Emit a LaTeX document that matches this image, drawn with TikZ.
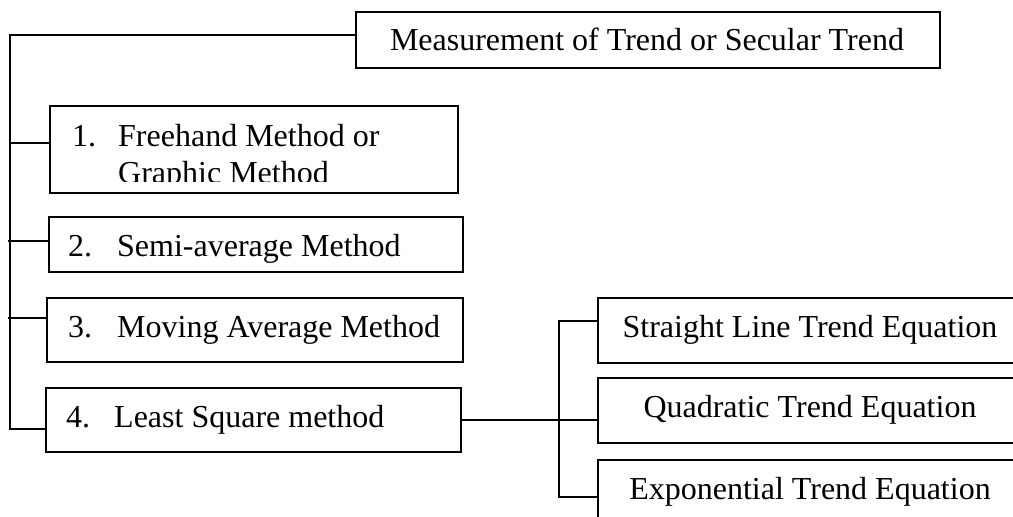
\documentclass[tikz,border=0pt]{standalone}
\usepackage{fontspec}
\setmainfont{Liberation Serif}
\begin{document}
\begin{tikzpicture}[x=1pt,y=-1pt,
  box/.style={draw, line width=1.6pt, inner sep=0pt, anchor=north west},
  lbl/.style={inner sep=0pt, anchor=base west, font=\fontsize{32}{37}\selectfont},
  clbl/.style={inner sep=0pt, anchor=base, font=\fontsize{32}{37}\selectfont},
  conn/.style={line width=1.5pt}]
\useasboundingbox (0,0) rectangle (1013,517);
\clip (0,0) rectangle (1013,517);
% boxes
\node[box, minimum width=584pt, minimum height=56pt] (top) at (355,11) {};
\node[box, minimum width=408pt, minimum height=87pt] (b1) at (49,105) {};
\node[box, minimum width=414pt, minimum height=55pt] (b2) at (48,216) {};
\node[box, minimum width=416pt, minimum height=64pt] (b3) at (46,297) {};
\node[box, minimum width=415pt, minimum height=64pt] (b4) at (45,387) {};
\node[box, minimum width=426pt, minimum height=65pt] (sl) at (597,297) {};
\node[box, minimum width=426pt, minimum height=65pt] (qd) at (597,377) {};
\node[box, minimum width=426pt, minimum height=65pt] (ex) at (597,459) {};
% texts
\node[clbl] (ttop) at (647,50) {Measurement of Trend or Secular Trend};
\begin{scope}
\clip (49,105) rectangle (457,181.5);
\node[lbl] (t1a) at (72,146) {\makebox[46pt][l]{1.}Freehand Method or};
\node[lbl] (t1b) at (118,183) {Graphic Method};
\end{scope}
\node[lbl] (t2) at (68,256) {\makebox[49pt][l]{2.}Semi-average Method};
\node[lbl] (t3) at (68,337) {\makebox[49pt][l]{3.}Moving Average Method};
\node[lbl] (t4) at (66,427) {\makebox[48pt][l]{4.}Least Square method};
\node[clbl] (tsl) at (810,337) {Straight Line Trend Equation};
\node[clbl] (tqd) at (810,417) {Quadratic Trend Equation};
\node[clbl] (tex) at (810,499) {Exponential Trend Equation};
% connectors
\coordinate (tA) at (10,35);
\coordinate (tB) at (10,429);
\draw[conn] (top.west |- tA) -- (tA) -- (tB) -- (tB -| b4.west);
\coordinate (c1) at (10,143);
\coordinate (c2) at (8,241);
\coordinate (c3) at (8,318);
\draw[conn] (c1) -- (c1 -| b1.west);
\draw[conn] (c2) -- (c2 -| b2.west);
\draw[conn] (c3) -- (c3 -| b3.west);
\coordinate (r1) at (559,321);
\coordinate (r2) at (559,497);
\draw[conn] (b4.east) -- (b4.east -| qd.west);
\draw[conn] (r1 -| sl.west) -- (r1) -- (r2) -- (r2 -| ex.west);
\end{tikzpicture}
\end{document}
